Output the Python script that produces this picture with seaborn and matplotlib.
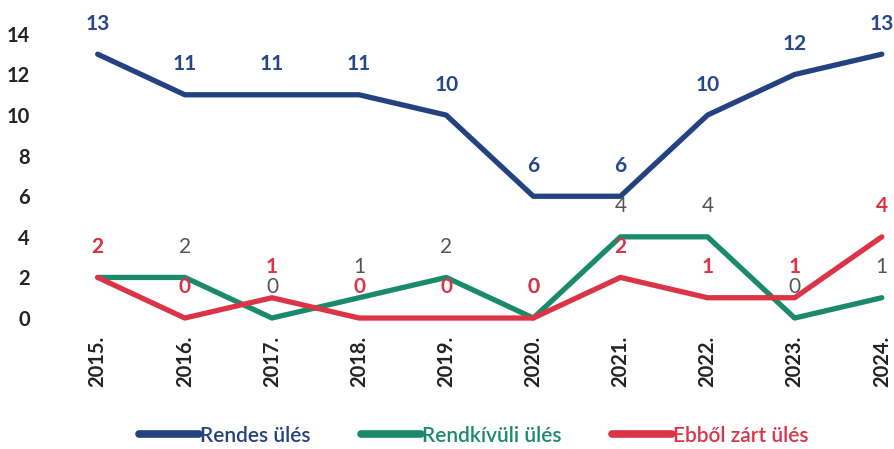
import matplotlib
matplotlib.use("Agg")
import matplotlib.pyplot as plt
import seaborn as sns
import pandas as pd
from matplotlib.lines import Line2D

# -----------------------------
# Data
# -----------------------------
years = ["2015.", "2016.", "2017.", "2018.", "2019.",
         "2020.", "2021.", "2022.", "2023.", "2024."]
rendes = [13, 11, 11, 11, 10, 6, 6, 10, 12, 13]
rendkivuli = [2, 2, 0, 1, 2, 0, 4, 4, 0, 1]
zart = [2, 0, 1, 0, 0, 0, 2, 1, 1, 4]

series_names = ["Rendes ülés", "Rendkívüli ülés", "Ebből zárt ülés"]
colors = {"Rendes ülés": "#23427f",
          "Rendkívüli ülés": "#1b8a6b",
          "Ebből zárt ülés": "#dc3447"}
label_colors = {"Rendes ülés": "#26478a",
                "Rendkívüli ülés": "#555555",
                "Ebből zárt ülés": "#dc3447"}
label_weights = {"Rendes ülés": "bold",
                 "Rendkívüli ülés": "normal",
                 "Ebből zárt ülés": "bold"}

df = pd.DataFrame({
    "x": list(range(len(years))) * 3,
    "value": rendes + rendkivuli + zart,
    "series": [s for s in series_names for _ in years],
})

# -----------------------------
# Plot
# -----------------------------
sns.set_theme(style="white")
plt.rcParams["font.family"] = ["Lato", "DejaVu Sans"]

fig = plt.figure(figsize=(8.94, 4.49), dpi=100)
ax = fig.add_axes([55 / 894, 1 - 330 / 449, 1 - 55 / 894, 330 / 449])

sns.lineplot(data=df, x="x", y="value", hue="series", palette=colors,
             linewidth=3.8, legend=False, ax=ax)

# data labels
for name in series_names:
    sub = df[df["series"] == name]
    for xi, v in zip(sub["x"], sub["value"]):
        ax.annotate(str(v), (xi, v), xytext=(0, 22), textcoords="offset points",
                    ha="center", va="center", fontsize=15,
                    color=label_colors[name], fontweight=label_weights[name])

ax.set_xlim(-0.49, 9.14)
ax.set_ylim(-0.59, 15.67)
ax.set_yticks(range(0, 15, 2))
ax.set_xticks(range(len(years)))
ax.set_xticklabels(years, rotation=90, fontweight="bold", fontsize=14.5,
                   color="#222222")
ax.tick_params(axis="y", length=0, pad=18, labelsize=14.5, labelcolor="#222222")
ax.tick_params(axis="x", length=0, pad=4)
for lbl in ax.get_yticklabels():
    lbl.set_fontweight("bold")
ax.set_xlabel("")
ax.set_ylabel("")
sns.despine(ax=ax, left=True, bottom=True)

# legend
handles = [Line2D([0], [0], color=colors[n], linewidth=5.5) for n in series_names]
leg = fig.legend(handles, series_names, loc="center", bbox_to_anchor=(0.53, 0.03),
                 ncol=3, frameon=False, handlelength=2.9, handletextpad=0.05,
                 columnspacing=2.4, borderpad=0.1,
                 prop={"size": 15, "weight": "semibold"})
for txt, n in zip(leg.get_texts(), series_names):
    txt.set_color(colors[n])

fig.savefig("out.png", dpi=100)
